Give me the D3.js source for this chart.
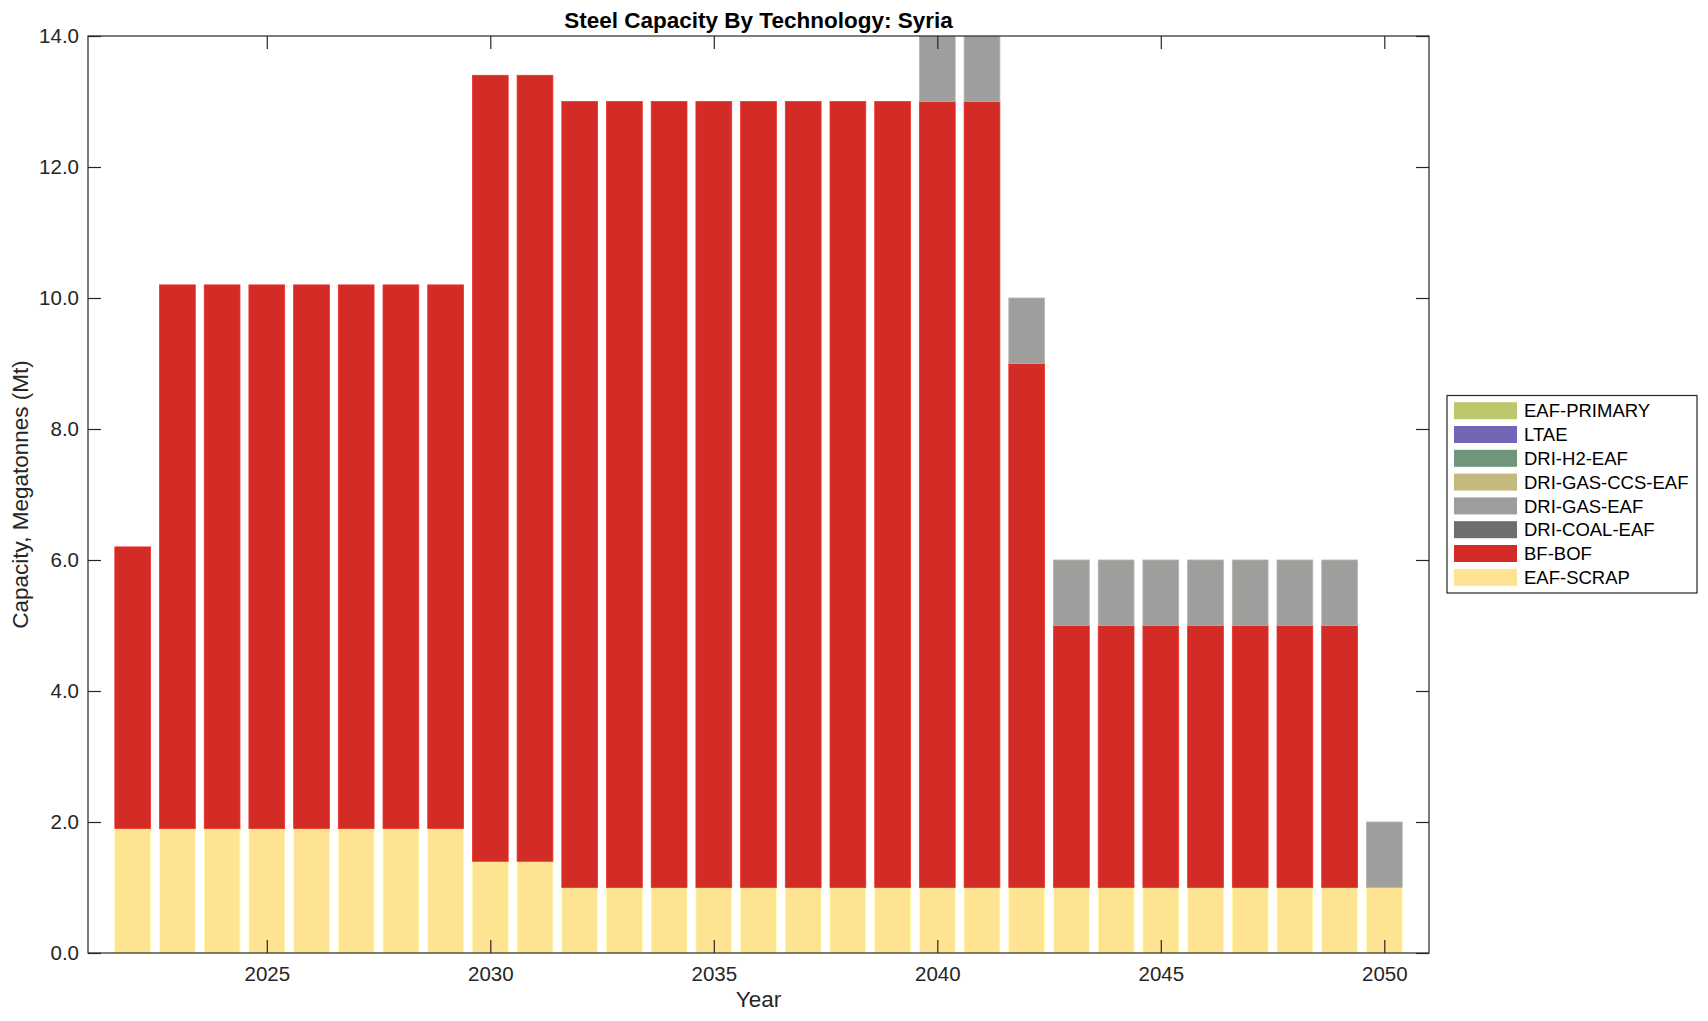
<!DOCTYPE html>
<html>
<head>
<meta charset="utf-8">
<script src="https://cdn.jsdelivr.net/npm/d3@7"></script>
<style>
  html, body { margin: 0; padding: 0; background: #fff; }
  svg text { font-family: "Liberation Sans", Arial, Helvetica, sans-serif; }
</style>
</head>
<body>
<svg id="chart" width="1708" height="1021"></svg>
<script>
// ---- Data ----
const years = [2022,2023,2024,2025,2026,2027,2028,2029,2030,2031,2032,2033,2034,2035,2036,2037,2038,2039,2040,2041,2042,2043,2044,2045,2046,2047,2048,2049,2050];
const eafScrap   = [1.9,1.9,1.9,1.9,1.9,1.9,1.9,1.9,1.4,1.4,1.0,1.0,1.0,1.0,1.0,1.0,1.0,1.0,1.0,1.0,1.0,1.0,1.0,1.0,1.0,1.0,1.0,1.0,1.0];
const bfBof      = [4.3,8.3,8.3,8.3,8.3,8.3,8.3,8.3,12.0,12.0,12.0,12.0,12.0,12.0,12.0,12.0,12.0,12.0,12.0,12.0,8.0,4.0,4.0,4.0,4.0,4.0,4.0,4.0,0.0];
const driCoalEaf = [0,0,0,0,0,0,0,0,0,0,0,0,0,0,0,0,0,0,0,0,0,0,0,0,0,0,0,0,0];
const driGasEaf  = [0,0,0,0,0,0,0,0,0,0,0,0,0,0,0,0,0,0,1.0,1.0,1.0,1.0,1.0,1.0,1.0,1.0,1.0,1.0,1.0];
const driGasCcsEaf = [0,0,0,0,0,0,0,0,0,0,0,0,0,0,0,0,0,0,0,0,0,0,0,0,0,0,0,0,0];
const driH2Eaf   = [0,0,0,0,0,0,0,0,0,0,0,0,0,0,0,0,0,0,0,0,0,0,0,0,0,0,0,0,0];
const ltae       = [0,0,0,0,0,0,0,0,0,0,0,0,0,0,0,0,0,0,0,0,0,0,0,0,0,0,0,0,0];
const eafPrimary = [0,0,0,0,0,0,0,0,0,0,0,0,0,0,0,0,0,0,0,0,0,0,0,0,0,0,0,0,0];

const seriesNames = ["EAF-SCRAP","BF-BOF","DRI-COAL-EAF","DRI-GAS-EAF","DRI-GAS-CCS-EAF","DRI-H2-EAF","LTAE","EAF-PRIMARY"];
const seriesValues = [eafScrap, bfBof, driCoalEaf, driGasEaf, driGasCcsEaf, driH2Eaf, ltae, eafPrimary];
const seriesColors = ["#FEE393","#D32B25","#6E6E6E","#9E9E9C","#C5BA7E","#6F967A","#7366B6","#BCC66B"];

const yTicks = [0,2,4,6,8,10,12,14];
const xTicks = [2025,2030,2035,2040,2045,2050];

const titleText = "Steel Capacity By Technology: Syria";
const xLabel = "Year";
const yLabel = "Capacity, Megatonnes (Mt)";

// ---- Layout ----
const L = 88, R = 1429, T = 36, B = 953;
const axisColor = "#262626";
const tickLen = 13;

const svg = d3.select("#chart");

const x = d3.scaleLinear().domain([2021, 2051]).range([L, R]);
const y = d3.scaleLinear().domain([0, 14]).range([B, T]);
const barW = (x(1) - x(0)) * 0.8;

// table for stacking
const table = years.map((yr, i) => {
  const o = { year: yr };
  seriesNames.forEach((n, k) => { o[n] = seriesValues[k][i]; });
  return o;
});
const stacked = d3.stack().keys(seriesNames)(table);

svg.append("defs").append("clipPath").attr("id", "plotclip")
  .append("rect").attr("x", L).attr("y", T).attr("width", R - L).attr("height", B - T);

const gBars = svg.append("g").attr("clip-path", "url(#plotclip)");
stacked.forEach((layer, k) => {
  const col = seriesColors[k];
  gBars.append("g")
    .selectAll("rect")
    .data(layer.filter(d => d[1] - d[0] > 0))
    .join("rect")
    .attr("x", d => x(d.data.year) - barW / 2)
    .attr("width", barW)
    .attr("y", d => y(d[1]))
    .attr("height", d => y(d[0]) - y(d[1]))
    .attr("fill", col)
    .attr("stroke", d3.color(col).brighter(0.35))
    .attr("stroke-width", 0.8);
});

// axes box
svg.append("rect").attr("x", L).attr("y", T).attr("width", R - L).attr("height", B - T)
  .attr("fill", "none").attr("stroke", axisColor).attr("stroke-width", 1.2);

const xAxisB = d3.axisBottom(x).tickValues(xTicks).tickFormat(d3.format("d")).tickSize(-tickLen);
const gxb = svg.append("g").attr("transform", `translate(0,${B})`).call(xAxisB);
const xAxisT = d3.axisTop(x).tickValues(xTicks).tickFormat("").tickSize(-tickLen);
const gxt = svg.append("g").attr("transform", `translate(0,${T})`).call(xAxisT);
const yAxisL = d3.axisLeft(y).tickValues(yTicks).tickFormat(d3.format(".1f")).tickSize(-tickLen).tickPadding(9);
const gyl = svg.append("g").attr("transform", `translate(${L},0)`).call(yAxisL);
const yAxisR = d3.axisRight(y).tickValues(yTicks).tickFormat("").tickSize(-tickLen);
const gyr = svg.append("g").attr("transform", `translate(${R},0)`).call(yAxisR);

[gxb, gxt, gyl, gyr].forEach(g => {
  g.select(".domain").remove();
  g.selectAll(".tick line").attr("stroke", axisColor).attr("stroke-width", 1.2);
  g.selectAll(".tick text").attr("fill", axisColor).attr("font-size", 20.5)
    .attr("font-family", "'Liberation Sans', Arial, Helvetica, sans-serif");
});
gxb.selectAll(".tick text").attr("dy", null).attr("y", 28);

// title
svg.append("text").attr("x", (L + R) / 2).attr("y", 28)
  .attr("text-anchor", "middle").attr("font-size", 22.5).attr("font-weight", "bold")
  .attr("fill", "#000").text(titleText);

// axis labels
svg.append("text").attr("x", (L + R) / 2).attr("y", 1007)
  .attr("text-anchor", "middle").attr("font-size", 22.5).attr("fill", axisColor).text(xLabel);
svg.append("text").attr("transform", `translate(28,${(T + B) / 2}) rotate(-90)`)
  .attr("text-anchor", "middle").attr("font-size", 22.5).attr("fill", axisColor).text(yLabel);

// legend
const legX = 1447, legY = 395.5, legW = 250, legH = 197.5;
const gLeg = svg.append("g");
gLeg.append("rect").attr("x", legX).attr("y", legY).attr("width", legW).attr("height", legH)
  .attr("fill", "#fff").attr("stroke", axisColor).attr("stroke-width", 1.2);
const legOrder = d3.range(seriesNames.length).reverse();
legOrder.forEach((k, i) => {
  const cy = 410.7 + i * 23.8;
  gLeg.append("rect").attr("x", 1454).attr("y", cy - 8.5).attr("width", 63).attr("height", 17)
    .attr("fill", seriesColors[k]);
  gLeg.append("text").attr("x", 1524).attr("y", cy).attr("dy", "0.36em")
    .attr("font-size", 18.5).attr("fill", "#000").text(seriesNames[k]);
});
</script>
</body>
</html>
